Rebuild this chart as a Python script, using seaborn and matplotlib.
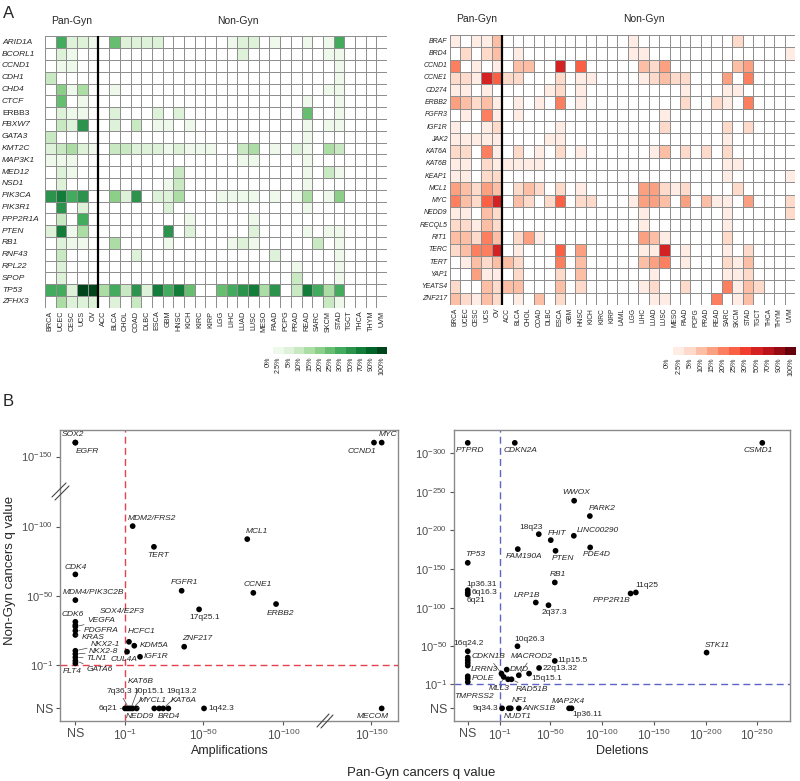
import numpy as np
import pandas as pd
import matplotlib
matplotlib.use("Agg")
import matplotlib.pyplot as plt
from matplotlib.colors import ListedColormap
from matplotlib.lines import Line2D
import seaborn as sns

sns.set_theme(style="white")
plt.rcParams["font.family"] = ["Liberation Sans", "DejaVu Sans"]
plt.rcParams["mathtext.fontset"] = "custom"
plt.rcParams["mathtext.rm"] = "Liberation Sans"
plt.rcParams["mathtext.it"] = "Liberation Sans:italic"
plt.rcParams["mathtext.bf"] = "Liberation Sans:bold"

# ---------------- data: panel A ----------------
PCT_LABELS = ["0%", "2.5%", "5%", "10%", "15%", "20%", "25%", "30%", "50%", "70%", "90%", "100%"]
GYN = ["BRCA", "UCEC", "CESC", "UCS", "OV"]
MUT_NONGYN = ["ACC", "BLCA", "CHOL", "COAD", "DLBC", "ESCA", "GBM", "HNSC", "KICH", "KIRC", "KIRP",
              "LGG", "LIHC", "LUAD", "LUSC", "MESO", "PAAD", "PCPG", "PRAD", "READ", "SARC", "SKCM",
              "STAD", "TGCT", "THCA", "THYM", "UVM"]
CNA_NONGYN = ["ACC", "BLCA", "CHOL", "COAD", "DLBC", "ESCA", "GBM", "HNSC", "KICH", "KIRC", "KIRP",
              "LAML", "LGG", "LIHC", "LUAD", "LUSC", "MESO", "PAAD", "PCPG", "PRAD", "READ", "SARC",
              "SKCM", "STAD", "TGCT", "THCA", "THYM", "UVM"]

MUT_GENES = ["ARID1A", "BCORL1", "CCND1", "CDH1", "CHD4", "CTCF", "ERBB3", "FBXW7", "GATA3", "KMT2C",
             "MAP3K1", "MED12", "NSD1", "PIK3CA", "PIK3R1", "PPP2R1A", "PTEN", "RB1", "RNF43",
             "RPL22", "SPOP", "TP53", "ZFHX3"]
# frequency bin index per cell (index into PCT_LABELS, hex digits), one string per gene
MUT_BINS = [
    "07221 06222 20000 00122 01001 01700 00",
    "02100 00000 00000 00020 00000 01100 00",
    "01100 00000 00000 00000 00000 00100 00",
    "30000 00000 00000 00000 00000 00100 00",
    "05140 01000 00000 00000 00000 01100 00",
    "06010 00000 00000 00000 00001 00100 00",
    "02110 02000 20200 00000 00006 00100 00",
    "03280 02030 11010 00000 00001 01100 00",
    "30000 00000 00000 00000 00001 00000 00",
    "23421 03322 21211 10034 01021 04300 00",
    "11100 00000 00000 00011 00001 00000 00",
    "02100 00000 00300 00000 00001 03100 00",
    "02000 00000 01300 00000 00001 00000 00",
    "89780 05280 22400 01111 01014 01500 00",
    "08020 00000 02000 00000 00001 00000 00",
    "03070 00000 00010 00001 00000 00000 00",
    "29140 00000 08020 00002 00001 01100 00",
    "02110 04000 01000 00121 00000 30100 00",
    "03000 00020 00000 00000 02000 00100 00",
    "02000 00000 00000 00000 00010 00100 00",
    "02000 00000 00000 00000 00030 00100 00",
    "772bb 47382 97960 06789 48039 74700 00",
    "04222 02030 00000 00000 00000 03100 00",
]

CNA_GENES = ["BRAF", "BRD4", "CCND1", "CCNE1", "CD274", "ERBB2", "FGFR3", "IGF1R", "JAK2", "KAT6A",
             "KAT6B", "KEAP1", "MCL1", "MYC", "NEDD9", "RECQL5", "RIT1", "TERC", "TERT", "YAP1",
             "YEATS4", "ZNF217"]
CNA_BINS = [
    "10113 00000 00000 00100 00000 00200 000",
    "02023 01000 00000 00110 00000 00000 001",
    "50101 03300 80600 00032 40000 00340 000",
    "22186 22000 20110 00012 32200 04050 000",
    "11010 00001 20100 00000 00100 01100 000",
    "43231 01010 50100 00000 00200 21050 000",
    "01051 01000 00000 00000 10000 00000 000",
    "10012 00000 10000 00000 20000 02020 000",
    "11111 00001 10000 00000 00000 01000 000",
    "22051 02010 20100 00001 30202 02000 000",
    "11021 11110 00000 00000 00000 01100 000",
    "11022 00000 00000 00000 00000 01000 001",
    "43243 02320 20100 00044 21200 00200 000",
    "53268 03202 60220 00144 30403 11040 002",
    "11032 00000 00000 00010 00000 01000 002",
    "22132 00000 00000 00010 00000 01000 000",
    "33253 02410 00000 00043 10000 02000 000",
    "23558 01000 60400 00011 80100 01020 000",
    "01323 32000 50300 00034 50100 02130 000",
    "00411 02000 20300 00001 00000 01120 000",
    "20032 33000 30200 00012 00200 05132 000",
    "32132 01030 20000 00001 10000 50130 000",
]

# ---------------- data: panel B (-log10 q; nan = NS) ----------------
nan = np.nan
AMP_NAMES = ["SOX2", "EGFR", "CCND1", "MYC", "MDM2/FRS2", "TERT", "MCL1", "CDK4", "FGFR1", "CCNE1",
             "ERBB2", "MDM4/PIK3C2B", "17q25.1", "CDK6", "SOX4/E2F3", "VEGFA", "PDGFRA", "KRAS",
             "HCFC1", "KDM5A", "ZNF217", "CUL4A", "NKX2-1", "NKX2-8", "TLN1", "GATA6", "FLT4",
             "IGF1R", "6q21", "NEDD9", "7q36.3", "KAT6B", "10p15.1", "MYCL1", "", "BRD4", "19q13.2",
             "KAT6A", "1q42.3", "MECOM"]
AMP_PANGYN = [nan, nan, 151.6, 156.4, 5.8, 19.1, 77.4, nan, 36.4, 81.2,
              95.4, nan, 47.3, nan, nan, nan, nan, nan,
              3.5, 6.8, 38.0, 2.3, nan, nan, nan, nan, nan,
              10.4, 1.0, 2.3, 3.5, 4.7, 5.8, 8.3, 19.3, 22.4, 24.9,
              28.1, 50.4, 156.4]
AMP_NONGYN = [160, 160, 160, 160, 100.3, 85.5, 91.0, 65.8, 54.1, 52.6,
              44.6, 47.4, 40.8, 31.9, 29.5, 28.4, 25.5, 22.5,
              17.6, 14.8, 14.1, 10.5, 11.2, 8.9, 6.5, 4.1, 2.2,
              6.9, nan, nan, nan, nan, nan, nan, nan, nan, nan,
              nan, nan, nan]

DEL_NAMES = ["PTPRD", "CDKN2A", "CSMD1", "WWOX", "PARK2", "18q23", "FHIT", "LINC00290", "FAM190A",
             "PTEN", "PDE4D", "TP53", "RB1", "11q25", "PPP2R1B", "1p36.31", "6q16.3", "6q21", "LRP1B",
             "2q37.3", "10q26.3", "STK11", "16q24.2", "", "", "LRRN3", "", "11p15.5", "22q13.32",
             "DMD", "MACROD2", "15q15.1", "CDKN1B", "MLL3", "", "RAD51B", "POLE", "", "TMPRSS2",
             "9q34.3", "NUDT1", "NF1", "ANKS1B", "MAP2K4", "1p36.11"]
DEL_PANGYN = [nan, 15.5, 254.9, 72.9, 88.1, 38.7, 50.3, 72.6, 18.4,
              54.9, 88.4, nan, 54.2, 132.6, 127.5, nan, nan, nan, 35.8,
              48.1, 18.1, 201.0, nan, nan, nan, nan, nan, 54.2, 39.0,
              7.7, 19.4, 29.3, 2.6, 4.8, 9.0, 12.3, nan, nan, nan,
              3.2, 9.7, 11.6, 19.4, 68.0, 70.4]
DEL_NONGYN = [313, 313, 313, 238.2, 218.4, 195.0, 187.3, 192.9, 175.7,
              173.5, 177.9, 158.0, 132.6, 119.7, 118.4, 122.6, 119.7, 117.1, 106.7,
              103.2, 50.2, 42.0, 43.7, 35.6, 32.1, 28.6, 25.2, 31.2, 22.1,
              20.0, 12.7, 14.9, 14.9, 10.5, 7.5, 7.5, 11.4, 8.4, 4.0,
              nan, nan, nan, nan, nan, nan]

# ---------------- layout (label placement, pixels) ----------------
AMP_LABEL_POS = [("left", -14, 8, 0), ("left", 0, -9, 0), ("right", 2, -9, 0), ("center", 6, 8, 0),
                 ("left", -5, 8, 0), ("center", 4, -9, 0), ("left", -2, 8, 0), ("center", 0, 7, 0),
                 ("center", 3, 8, 0), ("center", 4, 8, 0), ("center", 4, -9, 0), ("left", -13, 8, 0),
                 ("center", 6, -8, 0), ("left", -14, 7, 0), ("left", 24, 14, 0), ("left", 12, 6, 1),
                 ("left", 8, 0, 1), ("left", 6, -2.5, 1), ("left", -1, 10, 0), ("left", 5, 0, 0),
                 ("left", -2, 8, 0), ("left", -17, -8, 0), ("left", 15, 6.5, 1), ("left", 13, 2, 1),
                 ("left", 11, -1, 1), ("left", 11, -9, 1), ("left", -13, -8, 0), ("left", 4, 0, 0),
                 ("right", -8, 0, 1), ("left", -1, -8, 0), ("right", 3, 17, 1), ("left", -3, 27, 1),
                 ("left", 1, 17, 1), ("left", 2, 8, 1), None, ("left", -1, -8, 0),
                 ("left", 3, 17, 1), ("left", 2, 8, 0), ("left", 4, 0, 0), ("center", -9, -8, 0)]
DEL_LABEL_POS = [("left", -12, -8, 0), ("left", -11, -8, 0), ("center", -4, -8, 0), ("center", 2, 8, 0),
                 ("left", -1, 8, 0), ("right", 4, 7, 0), ("left", -3, 7, 0), ("left", 3, 5, 0),
                 ("center", 6, -7, 0), ("center", 7, -8, 0), ("center", 7, -7, 0), ("center", 7, 8, 0),
                 ("center", 3, 8, 0), ("left", -1, 7, 0), ("right", 0, -7, 0), ("left", -1, 6, 0),
                 ("left", 4, 0, 0), ("left", -1, -6, 0), ("center", -9, 7, 0), ("center", 6, -7, 0),
                 ("left", -3, 7, 0), ("left", -2, 7, 0), ("center", 1, 8, 0), None, None,
                 ("left", 3, -7, 1), None, ("left", 3, 0, 0), ("left", 4, -1, 0), ("left", 3, 0, 0),
                 ("center", 13, 19, 1), ("left", 2, -5, 0), ("center", -13, 17, 1), ("center", -5, -12, 1),
                 None, ("left", 4, -10, 1), ("left", 4, -2, 0), None, ("left", -14, -15, 0),
                 ("right", -4, 0, 0), ("left", -5, -8, 0), ("left", 1, 8, 0), ("left", 4, 0, 0),
                 ("center", -1, 7, 0), ("left", 1, -6, 0)]

W, H = 800, 781
fig = plt.figure(figsize=(8, 7.81), dpi=100)


def box(x0, y0, x1, y1):
    return [x0 / W, 1 - y1 / H, (x1 - x0) / W, (y1 - y0) / H]


def decode(s):
    return [int(c, 16) for c in s.replace(" ", "")]


greens = ["#ffffff"] + [matplotlib.colors.to_hex(c) for c in plt.cm.Greens(np.linspace(0.06, 1.0, 11))]
reds = ["#ffffff"] + [matplotlib.colors.to_hex(c) for c in plt.cm.Reds(np.linspace(0.05, 1.0, 11))]


def draw_heat(rect, genes, bins, cols, colors, ylab_size, xlab_size, ypad, yha, upright=()):
    ax = fig.add_axes(box(*rect))
    mat = np.array([decode(s) for s in bins])
    df = pd.DataFrame(mat, index=genes, columns=cols)
    sns.heatmap(df, ax=ax, cmap=ListedColormap(colors), vmin=-0.5, vmax=11.5, cbar=False,
                linewidths=0.6, linecolor="#8f8f8f", xticklabels=True, yticklabels=True)
    ax.axvline(5, color="black", lw=1.6)
    ax.set_xlabel("")
    ax.set_ylabel("")
    ax.tick_params(axis="x", length=0, pad=2, labelsize=xlab_size, labelrotation=90)
    ax.tick_params(axis="y", length=0, pad=ypad, labelsize=ylab_size, labelrotation=0)
    for t in ax.get_yticklabels():
        t.set_ha(yha)
        if t.get_text() not in upright:
            t.set_fontstyle("italic")
    return ax


ax_mut = draw_heat((45, 36.4, 387, 307.8), MUT_GENES, MUT_BINS, GYN + MUT_NONGYN, greens,
                   6, 5.2, 31, "left", upright=("ERBB3",))
ax_cna = draw_heat((450, 35, 795, 305), CNA_GENES, CNA_BINS, GYN + CNA_NONGYN, reds,
                   5, 4.8, 2, "right")

for ax, ncol in ((ax_mut, 27), (ax_cna, 28)):
    ax.text(2.5, -0.9, "Pan-Gyn", ha="center", va="bottom", fontsize=7.5)
    ax.text(5 + ncol / 2 - 0.5, -0.9, "Non-Gyn", ha="center", va="bottom", fontsize=7.5)


def draw_legend(rect, colors):
    cax = fig.add_axes(box(*rect))
    sns.heatmap(pd.DataFrame([list(range(12))], columns=PCT_LABELS), ax=cax,
                cmap=ListedColormap(colors), vmin=-0.5, vmax=11.5, cbar=False,
                xticklabels=True, yticklabels=False)
    cax.tick_params(axis="x", length=0, pad=2, labelsize=5.2, labelrotation=90)


draw_legend((263, 347, 387, 354), greens)
draw_legend((662, 347, 796, 355), reds)

fig.text(3 / W, 1 - 13 / H, "A", fontsize=12, va="center", ha="left")
fig.text(3 / W, 1 - 401 / H, "B", fontsize=12, va="center", ha="left")

# ---------------- panel B ----------------
NS = -30.0


def style_scatter(ax):
    for s in ax.spines.values():
        s.set_visible(True)
        s.set_color("#8a8a8a")
        s.set_linewidth(1.0)
    ax.tick_params(axis="both", which="both", bottom=True, left=True, direction="out", length=3,
                   width=0.8, color="#555555", labelcolor="#4d4d4d", labelsize=8, pad=2)
    ax.set_xlabel("")
    ax.set_ylabel("")
    ax.grid(False)


def pow_label(v):
    return "NS" if v == NS else r"$10^{-%d}$" % v


def scatter_panel(rect, names, xs, ys, label_pos, xlim, ylim, xticks, yticks, line_color, xbreak=None):
    ax = fig.add_axes(box(*rect))
    xs = np.array(xs, dtype=float)
    ys = np.array(ys, dtype=float)
    xd = np.where(np.isnan(xs), NS, xs)
    if xbreak is not None:
        xd = np.where(xd > xbreak, xd + 5, xd)
    yd = np.where(np.isnan(ys), NS, ys)
    df = pd.DataFrame({"name": names, "x": xd, "y": yd})
    ax.axvline(1, color=line_color, lw=1.0, ls=(0, (5, 3)), zorder=1)
    ax.axhline(1, color=line_color, lw=1.0, ls=(0, (5, 3)), zorder=1)
    sns.scatterplot(data=df, x="x", y="y", color="black", s=17, edgecolor="none", ax=ax,
                    legend=False, zorder=3)
    for (nm, x, y), lp in zip(df[["name", "x", "y"]].values, label_pos):
        if lp is None or nm == "":
            continue
        ha, dx, dy, leader = lp
        style = "normal" if nm[0].isdigit() else "italic"
        kw = {}
        if leader:
            kw["arrowprops"] = dict(arrowstyle="-", lw=0.5, color="#444444", shrinkA=0, shrinkB=2.5)
        ax.annotate(nm, (x, y), xytext=(dx, dy), textcoords="offset pixels", ha=ha, va="center",
                    fontsize=6, fontstyle=style, zorder=4, **kw)
    ax.set_xlim(*xlim)
    ax.set_ylim(*ylim)
    xt_pos = [(t + 5 if (xbreak is not None and t > xbreak) else t) for t in xticks]
    ax.set_xticks(xt_pos)
    ax.set_xticklabels([pow_label(t) for t in xticks])
    ax.set_yticks(yticks)
    ax.set_yticklabels([pow_label(t) for t in yticks])
    style_scatter(ax)
    ax.tick_params(axis="x", labelsize=8.5)
    for t in ax.get_xticklabels() + ax.get_yticklabels():
        if t.get_text() == "NS":
            t.set_fontsize(9)
    return ax


ax_amp = scatter_panel((60, 430, 398, 721), AMP_NAMES, AMP_PANGYN, AMP_NONGYN, AMP_LABEL_POS,
                       (-39.6, 171.6), (-39, 169), [NS, 1, 50, 100, 150], [NS, 1, 50, 100, 150],
                       "#e5424d", xbreak=125)
ax_del = scatter_panel((454, 430, 790, 721), DEL_NAMES, DEL_PANGYN, DEL_NONGYN, DEL_LABEL_POS,
                       (-43.3, 281.7), (-46.4, 329.6), [NS, 1, 50, 100, 150, 200, 250],
                       [NS, 1, 50, 100, 150, 200, 250, 300], "#5c64c8")


def fig_line(x0, y0, x1, y1):
    fig.add_artist(Line2D([x0 / W, x1 / W], [1 - y0 / H, 1 - y1 / H], transform=fig.transFigure,
                          color="#444444", lw=0.8))


# axis breaks
fig_line(52, 497, 66, 483)
fig_line(55, 500, 69, 486)
fig_line(317, 727, 329, 714)
fig_line(321, 728, 333, 715)

fig.text(230 / W, 1 - 751 / H, "Amplifications", ha="center", va="center", fontsize=9)
fig.text(622 / W, 1 - 751 / H, "Deletions", ha="center", va="center", fontsize=9)
fig.text(421 / W, 1 - 773 / H, "Pan-Gyn cancers q value", ha="center", va="center", fontsize=9.5)
fig.text(10 / W, 1 - 570 / H, "Non-Gyn cancers q value", ha="center", va="center", fontsize=9.5,
         rotation=90)

fig.savefig("out.png", dpi=100)
